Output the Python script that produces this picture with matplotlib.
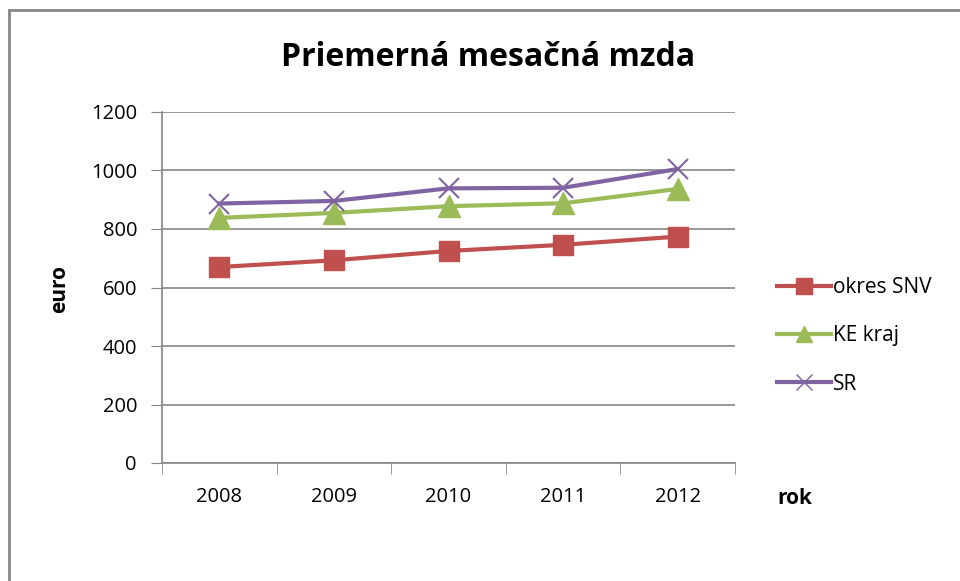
import matplotlib
matplotlib.use("Agg")
import matplotlib.pyplot as plt
from matplotlib.patches import Rectangle
from matplotlib.lines import Line2D

years = ["2008", "2009", "2010", "2011", "2012"]
okres_snv = [670, 693, 725, 746, 774]
ke_kraj = [838, 855, 878, 888, 937]
sr = [887, 896, 939, 941, 1005]

series_names = ["okres SNV", "KE kraj", "SR"]

plt.rcParams['font.family'] = ['Open Sans', 'DejaVu Sans']

fig = plt.figure(figsize=(9.6, 5.81), dpi=100)
ax = fig.add_axes([162/960, 1-463/581, (735-162)/960, (463-112)/581])

x = list(range(len(years)))
red, green, purple = "#C0504D", "#9BBB59", "#8064A2"
ax.plot(x, okres_snv, color=red, lw=3, marker='s', ms=14, mfc=red, mec=red, zorder=3)
ax.plot(x, ke_kraj, color=green, lw=3, marker='^', ms=16, mfc=green, mec=green, zorder=3)
ax.plot(x, sr, color=purple, lw=3, marker='x', ms=15, mew=1.5, mec=purple, zorder=4)

ax.set_xlim(-0.5, 4.5)
ax.set_ylim(0, 1200)
ax.set_yticks(range(0, 1201, 200))
ax.set_xticks(x)
ax.set_xticklabels(years)
ax.set_xticks([i - 0.5 for i in range(6)], minor=True)
ax.tick_params(axis='x', which='major', length=0, pad=17, labelsize=14.5)
ax.tick_params(axis='x', which='minor', length=8, color='#868686', direction='out')
ax.tick_params(axis='y', length=8, color='#868686', direction='out', pad=10, labelsize=14.5)
ax.grid(axis='y', color='#868686', lw=1.2)
ax.set_axisbelow(True)
for s in ['top', 'right']:
    ax.spines[s].set_visible(False)
for s in ['left', 'bottom']:
    ax.spines[s].set_color('#868686')
    ax.spines[s].set_linewidth(1.2)

fig.text(488/960, 1-57/581, "Priemerná mesačná mzda", ha='center', va='center',
         fontsize=23, fontweight='bold')
fig.text(60/960, 1-289/581, "euro", rotation=90, ha='center', va='center',
         fontsize=15, fontweight='bold')
fig.text(795/960, 1-498/581, "rok", ha='center', va='center',
         fontsize=15, fontweight='bold')

handles = [
    Line2D([], [], color=red, lw=3, marker='s', ms=12, mfc=red, mec=red),
    Line2D([], [], color=green, lw=3, marker='^', ms=12, mfc=green, mec=green),
    Line2D([], [], color=purple, lw=3, marker='x', ms=12, mew=1, mec=purple),
]
fig.legend(handles, series_names, loc='center left', bbox_to_anchor=(777/960, 1-336/581),
           frameon=False, fontsize=15, handlelength=2.6, handletextpad=0.1,
           labelspacing=1.3, borderaxespad=0, borderpad=0)

fig.add_artist(Rectangle((9/960, -0.1), 2, 1.1 - 10/581, transform=fig.transFigure,
                         fill=False, edgecolor='#868686', lw=2))

fig.savefig("out.png", dpi=100)
